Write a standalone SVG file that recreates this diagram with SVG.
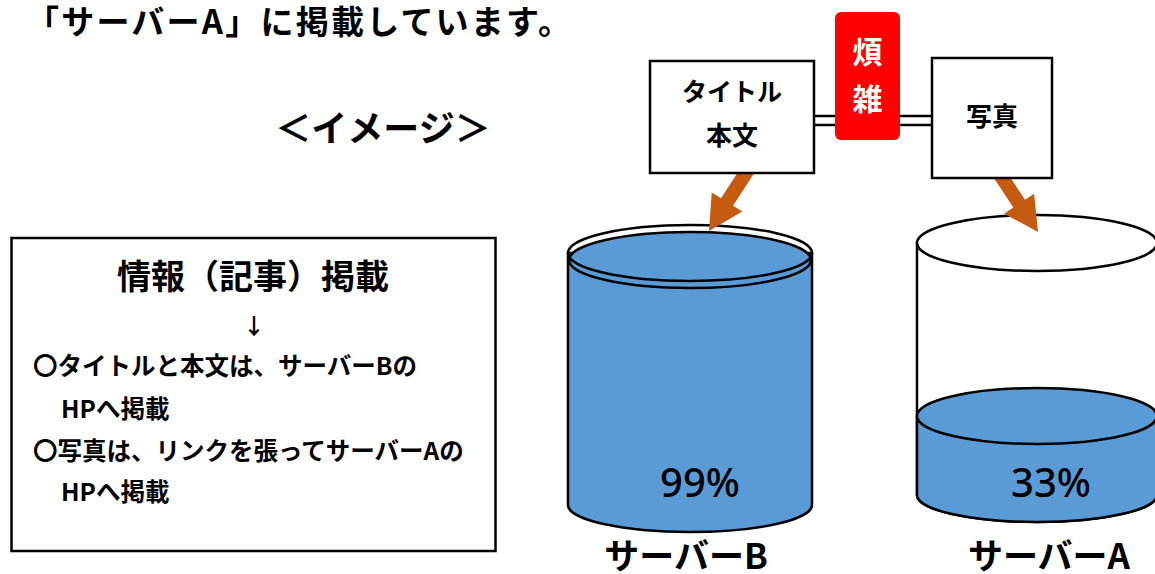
<svg xmlns="http://www.w3.org/2000/svg" width="1155" height="574" viewBox="0 0 1155 574">
<style>
text{font-family:"Noto Sans CJK JP","Noto Sans",sans-serif;font-weight:bold;fill:#000}
.box{fill:#fff;stroke:#000;stroke-width:2.5}
.cyl{stroke:#000;stroke-width:2.5}
.blue{fill:#5B9BD5}
.white{fill:#fff}
.none{fill:none}
.arrow{fill:#C55A11;stroke:none}
.dline{stroke:#000;stroke-width:2.5;fill:none}
.pct{font-family:"Noto Sans",sans-serif;font-weight:500;font-size:40px}
</style>
<rect width="1155" height="574" fill="#fff"/>
<g id="title">
<text x="26" y="34" font-size="33" textLength="545" lengthAdjust="spacing">「サーバーA」に掲載しています。</text>
</g>
<g id="image-label">
<text x="383" y="142" font-size="36" text-anchor="middle">＜イメージ＞</text>
</g>
<g id="info-box">
<rect class="box" x="11.5" y="238" width="484" height="313"/>
<text x="253" y="289" font-size="34" text-anchor="middle">情報（記事）掲載</text>
<text x="254" y="334" font-size="22" text-anchor="middle">↓</text>
<text x="33" y="375" font-size="24.5">〇タイトルと本文は、サーバーBの</text>
<text x="61" y="418" font-size="24.5">HPへ掲載</text>
<text x="33" y="460" font-size="24.5">〇写真は、リンクを張ってサーバーAの</text>
<text x="61" y="501" font-size="24.5">HPへ掲載</text>
</g>
<g id="server-b">
<path class="cyl blue" d="M568,253 L568,505 A122,27 0 0 0 812,505 L812,253 Z"/>
<ellipse class="cyl blue" cx="690" cy="260" rx="121" ry="28"/>
<ellipse class="cyl none" cx="690" cy="253" rx="122" ry="28"/>
<text class="pct" x="700" y="497" text-anchor="middle">99%</text>
<text x="686" y="569" font-size="35" text-anchor="middle">サーバーB</text>
</g>
<g id="server-a">
<path class="cyl white" d="M917,243 L917,495 A120,27 0 0 0 1157,495 L1157,243 Z"/>
<ellipse class="cyl white" cx="1037" cy="243" rx="120" ry="28"/>
<path class="cyl blue" d="M917,416 L917,495 A120,27 0 0 0 1157,495 L1157,416 Z"/>
<ellipse class="cyl blue" cx="1037" cy="416" rx="120" ry="28"/>
<text class="pct" x="1051" y="497" text-anchor="middle">33%</text>
<text x="1049" y="569" font-size="35" text-anchor="middle">サーバーA</text>
</g>
<g id="connectors">
<line class="dline" x1="814" y1="116" x2="932" y2="116"/>
<line class="dline" x1="814" y1="125" x2="932" y2="125"/>
<polygon class="arrow" points="757,168.7 733,205.7 742.3,211.5 709,231 711.7,192.5 721,198.3 745,161.3"/>
<polygon class="arrow" points="1002.8,166.1 1025,199.8 1034.1,193.7 1038,232 1004.1,213.7 1013.3,207.6 991.2,173.9"/>
</g>
<g id="box-title-body">
<rect class="box" x="650" y="61" width="164" height="112"/>
<text x="732" y="101" font-size="25" text-anchor="middle">タイトル</text>
<text x="732" y="145" font-size="26" text-anchor="middle">本文</text>
</g>
<g id="box-photo">
<rect class="box" x="932" y="58" width="120" height="120"/>
<text x="992" y="126" font-size="26" text-anchor="middle">写真</text>
</g>
<g id="badge-complex">
<rect x="835" y="12" width="65" height="128" rx="6" fill="#FF0000"/>
<text x="867.5" y="63" font-size="30" text-anchor="middle" style="fill:#fff">煩</text>
<text x="867.5" y="110" font-size="30" text-anchor="middle" style="fill:#fff">雑</text>
</g>
</svg>
